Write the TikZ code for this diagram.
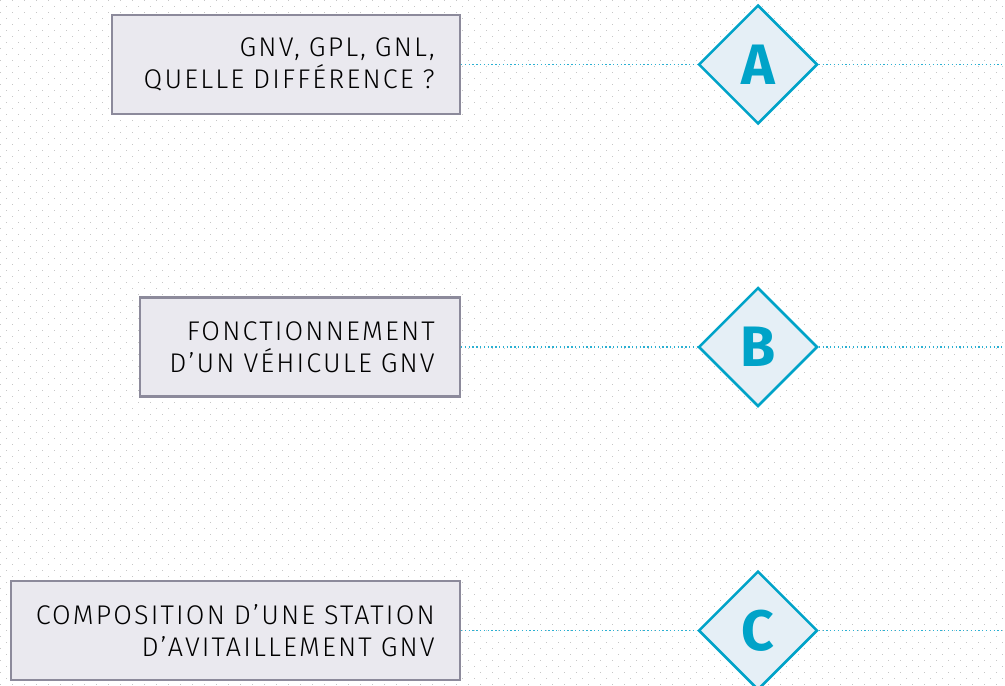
\documentclass[tikz,border=0pt]{standalone}
\usepackage{fontspec}
\setmainfont{Fira Sans}
\newfontfamily\themaschrift{Fira Sans Light}[LetterSpace=8]
\usepackage{tikz}
\usetikzlibrary{shapes.geometric}

\definecolor{boxrand}{HTML}{8C8A9B}
\definecolor{boxfond}{HTML}{EAE9EF}
\definecolor{cyanrand}{HTML}{00A3C8}
\definecolor{rautefond}{HTML}{E5EFF6}
\definecolor{cyanpunkt}{HTML}{2BB0D2}
\definecolor{rasterpunkt}{HTML}{C6C6C6}

\begin{document}
\begin{tikzpicture}[x=1pt,y=-1pt,
		thema/.style={draw=boxrand,fill=boxfond,line width=2.5pt,minimum height=99pt,inner xsep=25pt,align=right,anchor=east,font=\themaschrift\fontsize{27}{32}\selectfont},
		raute/.style={diamond,draw=cyanrand,fill=rautefond,line width=2.5pt,minimum size=119pt,inner sep=0pt,text=cyanrand,font=\fontsize{57}{57}\selectfont\bfseries},
		verbindung/.style={draw=cyanpunkt,line width=1.3pt,dash pattern=on 1.3pt off 2.5pt},
		raster/.style={draw=rasterpunkt,line width=1.2pt,dash pattern=on 1.2pt off 10.8pt}]
		\useasboundingbox (0,0) rectangle (1005,686);
		\fill[white] (0,0) rectangle (1005,686);
		% punktraster
		\foreach \r in {0,...,114}{
			\pgfmathsetmacro\phase{mod(\r,2)*6}
			\draw[raster,dash phase=\phase pt] (0,{\r*6+0.5}) -- (1005,{\r*6+0.5});
		}
		% themen
		\foreach \n/\y/\b/\txt in {A/64.5/298/{GNV, GPL, GNL,\\QUELLE DIFFÉRENCE~?},
				B/347/270/{FONCTIONNEMENT\\D’UN VÉHICULE GNV},
				C/630.5/399/{COMPOSITION D’UNE STATION\\D’AVITAILLEMENT GNV}}{
			\node[thema,text width=\b pt] (box\n) at (461,\y) {\txt};
			\node[raute] (raute\n) at (758,\y) {\n};
			\coordinate (ende\n) at (1005,\y);
			\draw[verbindung] (box\n.east) -- (raute\n.west);
			\draw[verbindung] (raute\n.east) -- (ende\n);
		}
	\end{tikzpicture}
\end{document}
